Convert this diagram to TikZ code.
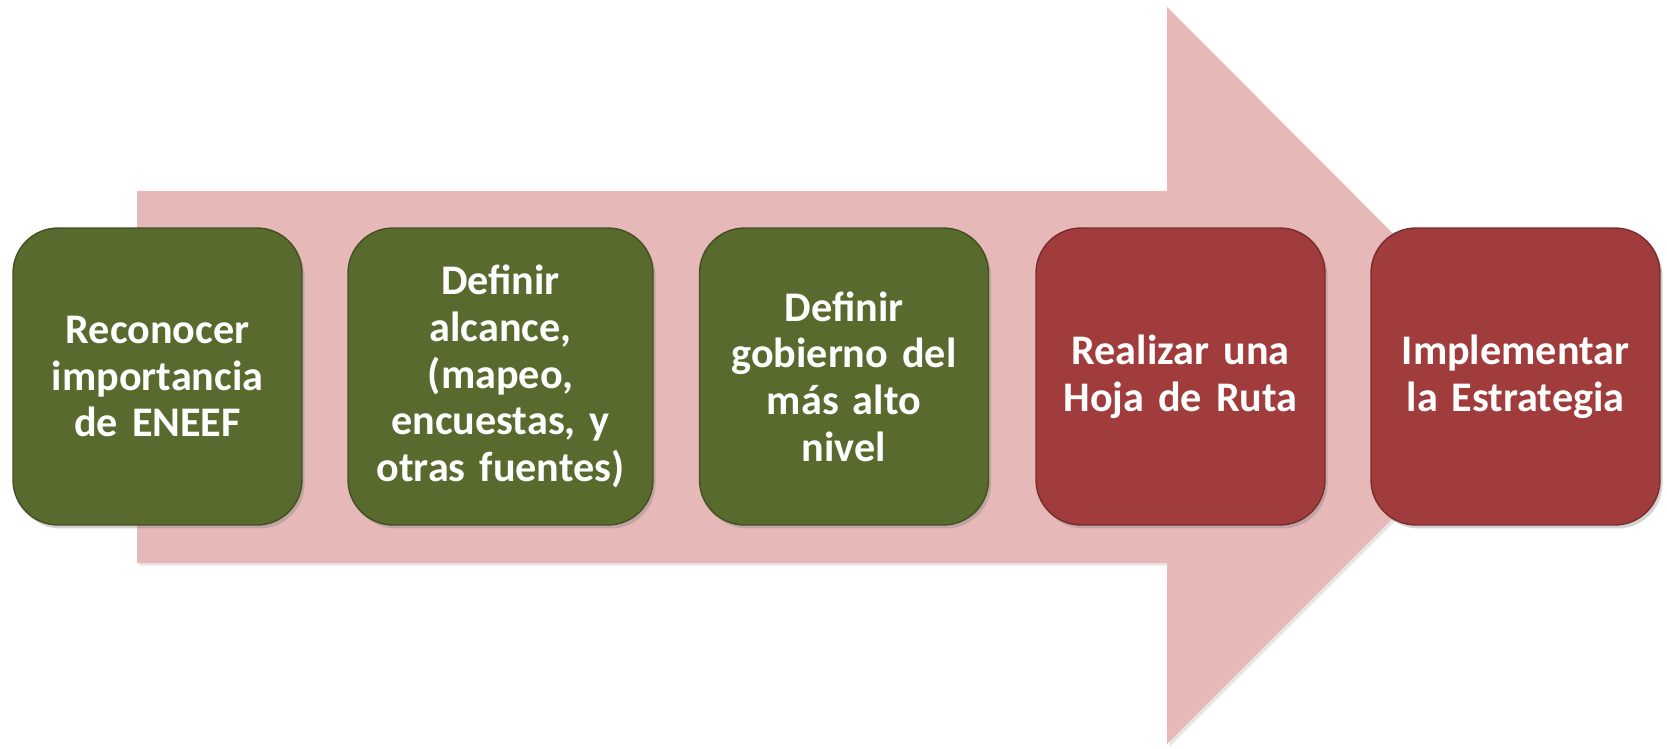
\documentclass[tikz,border=0pt]{standalone}
\usepackage{fontspec}
\setmainfont{Carlito}
\usetikzlibrary{shadows}

\definecolor{arrowpink}{RGB}{230,184,183}
\definecolor{stepgreen}{RGB}{88,106,46}
\definecolor{stepred}{RGB}{160,60,59}

\tikzset{
    stepbox/.style={draw=#1!75!black, fill=#1, line width=0.8pt, rounded corners=0.9cm,
        minimum width=5.78cm, minimum height=5.94cm, text width=5.4cm, inner sep=2pt, align=center,
        text=white, font=\fontsize{24}{26.6}\selectfont\bfseries,
        drop shadow={opacity=0.35, shadow xshift=1.5pt, shadow yshift=-2pt}},
    bigarrow/.style={fill=arrowpink, drop shadow={opacity=0.2, shadow xshift=1.5pt, shadow yshift=-1.5pt}}
}

\begin{document}
\begin{tikzpicture}[x=0.02cm, y=-0.02cm]
    \useasboundingbox (0, 0) rectangle (1667, 748);

    % big arrow behind the steps
    \fill[bigarrow] (137, 191) -- (1167, 191) -- (1167, 7) -- (1535, 376)
        -- (1167, 744) -- (1167, 563) -- (137, 563) -- cycle;

    \node[stepbox=stepgreen] (recon) at (157.5, 376.5) {Reconocer\\importancia\\de ENEEF};
    \node[stepbox=stepgreen, minimum width=6.1cm] (alcance) at (500.5, 376.5) {Definir\\alcance,\\(mapeo,\\encuestas, y\\otras fuentes)};
    \node[stepbox=stepgreen] (gobierno) at (844, 376.5) {Definir\\gobierno del\\más alto\\nivel};
    \node[stepbox=stepred] (hoja) at (1180.5, 376.5) {Realizar una\\Hoja de Ruta};
    \node[stepbox=stepred] (implem) at (1515.5, 376.5) {Implementar\\la Estrategia};
\end{tikzpicture}
\end{document}
